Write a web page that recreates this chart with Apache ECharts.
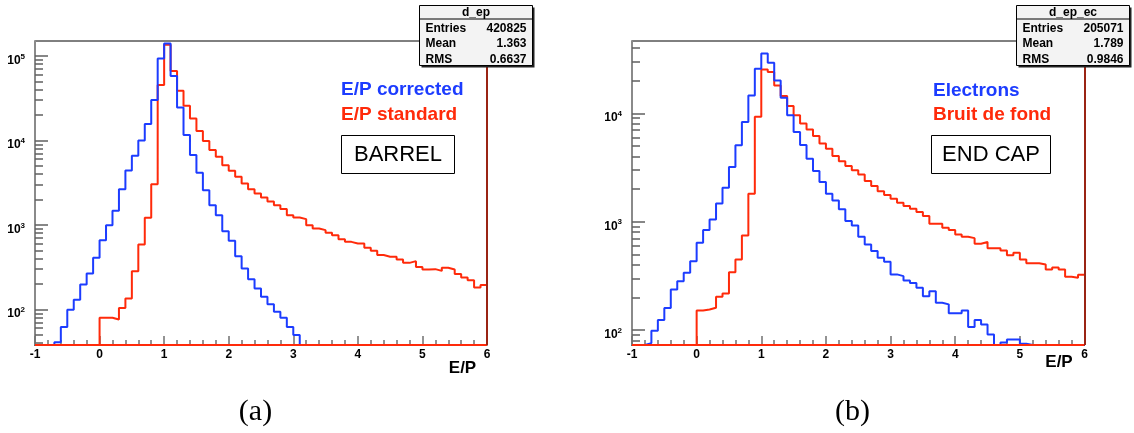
<!DOCTYPE html>
<html><head><meta charset="utf-8">
<script src="https://cdn.jsdelivr.net/npm/echarts@6/dist/echarts.min.js"></script>
<style>html,body{margin:0;padding:0;background:#fff}#c{width:1134px;height:433px}</style>
</head><body><div id="c"></div>
<script>
// ---- data ----
const BIN_LOW = -1, BIN_WIDTH = 0.1;              // 70 bins from -1 to 6
const xTickLabels = [-1, 0, 1, 2, 3, 4, 5, 6];

// (a) BARREL
const barrelCorrected = [0,0,0,41,62,99,130,198,267,408,
  660,995,1470,2650,4420,6580,10000,15600,30000,93300,
  140600,57700,24500,11560,6700,4140,2570,1710,1306,845,
  649,427,306,228,177,141,115,94,80,62,
  50,0,0,0,0,0,0,0,0,0,
  0,0,0,0,0,0,0,0,0,0,
  0,0,0,0,0,0,0,0,0,0];
const barrelStandard = [0,0,0,0,0,0,0,0,0,0,
  80,80,76,104,135,284,588,1213,3040,45200,
  135000,66100,38600,25700,18200,12900,9820,7680,6400,5100,
  4370,3710,3100,2650,2360,2115,1900,1710,1540,1306,
  1227,1172,995,910,868,807,757,679,631,604,
  604,536,494,440,420,420,391,356,373,319,
  297,300,286,311,297,262,239,222,182,195];
const barrelYRange = [38, 150000];
const barrelYMajor = [100, 1000, 10000, 100000];
const barrelYMinor = [40,50,60,70,80,90,200,300,400,500,600,700,800,900,
  2000,3000,4000,5000,6000,7000,8000,9000,20000,30000,40000,50000,60000,70000,80000,90000];
const barrelStatsName = 'd_ep';
const barrelStatsLabels = ['Entries', 'Mean', 'RMS'];
const barrelStatsValues = ['420825', '1.363', '0.6637'];
const barrelLegend = ['E/P corrected', 'E/P standard'];
const barrelTag = 'BARREL';

// (b) END CAP
const endcapElectrons = [0,0,76,99,124,160,237,283,339,433,
  640,837,1050,1475,2060,3190,5060,8300,14600,25800,
  35500,29300,20100,13900,9570,6720,5090,3810,2930,2320,
  1810,1570,1300,1013,925,728,618,536,465,428,
  327,315,287,273,246,206,229,179,173,143,
  143,152,107,124,113,91,0,77,82,82,
  75,0,0,0,0,0,0,0,0,0];
const endcapBackground = [0,0,0,0,0,0,0,0,0,0,
  152,155,161,203,218,343,449,748,1810,9310,
  25400,24000,18070,14400,11650,9570,8070,7100,6160,5270,
  4710,4030,3620,3260,2990,2730,2370,2130,1914,1760,
  1630,1497,1393,1318,1227,1127,957,957,881,837,
  764,728,706,627,649,568,568,543,492,517,
  449,415,415,404,363,379,363,311,304,324];
const endcapYRange = [73, 46400];
const endcapYMajor = [100, 1000, 10000];
const endcapYMinor = [80,90,200,300,400,500,600,700,800,900,
  2000,3000,4000,5000,6000,7000,8000,9000,20000,30000,40000];
const endcapStatsName = 'd_ep_ec';
const endcapStatsLabels = ['Entries', 'Mean', 'RMS'];
const endcapStatsValues = ['205071', '1.789', '0.9846'];
const endcapLegend = ['Electrons', 'Bruit de fond'];
const endcapTag = 'END CAP';

const xTitle = 'E/P';
const captions = ['(a)', '(b)'];

// ---- styling ----
const FONT = 'Liberation Sans, Arial, Helvetica, sans-serif';
const BLUE = '#1c3cff', RED = '#ff2a0a';

function stepData(vals, ymin) {
  const pts = vals.map((v, i) => [+(BIN_LOW + i * BIN_WIDTH).toFixed(2), Math.max(v, ymin)]);
  pts.push([+(BIN_LOW + vals.length * BIN_WIDTH).toFixed(2), Math.max(vals[vals.length - 1], ymin)]);
  return pts;
}

function xAxisCfg(gi) {
  return {
    type: 'value', gridIndex: gi, min: xTickLabels[0], max: xTickLabels[xTickLabels.length - 1], interval: 1,
    axisLine: { show: true, onZero: false, lineStyle: { color: '#000', width: 1 } },
    axisTick: { show: true, inside: true, length: 9, lineStyle: { color: '#707070', width: 1.5 } },
    minorTick: { show: true, splitNumber: 5, length: 5, lineStyle: { color: '#707070', width: 1.5 } },
    splitLine: { show: false },
    axisLabel: { margin: 4, fontFamily: FONT, fontWeight: 'bold', fontSize: 12, color: '#000' }
  };
}
function yAxisMajor(gi, range, major) {
  return {
    type: 'log', logBase: 10, gridIndex: gi, min: range[0], max: range[1], position: 'left',
    axisLine: { show: true, onZero: false, lineStyle: { color: '#8a8a8a', width: 2 } },
    axisTick: { show: true, inside: true, length: 13, customValues: major, lineStyle: { color: '#606060', width: 1.5 } },
    splitLine: { show: false },
    axisLabel: {
      customValues: major, margin: 10, padding: [7, 0, 0, 0],
      formatter: v => '{b|10}{s|' + Math.round(Math.log10(v)) + '}',
      rich: {
        b: { fontFamily: FONT, fontWeight: 'bold', fontSize: 12, color: '#000', padding: [2, 0, 0, 0] },
        s: { fontFamily: FONT, fontWeight: 'bold', fontSize: 8, color: '#000', verticalAlign: 'top' }
      }
    }
  };
}
function yAxisMinor(gi, range, minor) {
  return {
    type: 'log', logBase: 10, gridIndex: gi, min: range[0], max: range[1], position: 'left',
    axisLine: { show: false, onZero: false },
    axisTick: { show: true, inside: true, length: 8, customValues: minor, lineStyle: { color: '#606060', width: 1.5 } },
    axisLabel: { show: false },
    splitLine: { show: false }
  };
}
function histSeries(name, vals, color, xi, yi, ymin, z, extra) {
  return Object.assign({
    name, type: 'line', step: 'end', symbol: 'none', clip: false, z,
    xAxisIndex: xi, yAxisIndex: yi,
    lineStyle: { color, width: 2 }, data: stepData(vals, ymin), animation: false
  }, extra || {});
}
function frameMarks(ymin) {
  return {
    markLine: {
      silent: true, symbol: 'none', label: { show: false }, animation: false,
      data: [
        { yAxis: ymin, lineStyle: { color: RED, width: 2, type: 'solid' } },
        { xAxis: xTickLabels[xTickLabels.length - 1], lineStyle: { color: '#9a2414', width: 2, type: 'solid' } }
      ]
    }
  };
}

function statsBox(x, y, w, h, name, labels, values) {
  const els = [
    { type: 'rect', shape: { x: x + 2, y: y + 2, width: w, height: h }, style: { fill: '#222' }, z: 10 },
    { type: 'rect', shape: { x: x, y: y, width: w, height: h }, style: { fill: '#f3f3f3', stroke: '#000', lineWidth: 1 }, z: 11 },
    { type: 'line', shape: { x1: x, y1: y + 13.5, x2: x + w, y2: y + 13.5 }, style: { stroke: '#000', lineWidth: 1 }, z: 12 },
    { type: 'text', x: x + w / 2, y: y + 7.5, style: { text: name, font: 'bold 12px ' + FONT, fill: '#000', align: 'center', verticalAlign: 'middle' }, z: 12 }
  ];
  labels.forEach((l, i) => {
    els.push({ type: 'text', x: x + 6, y: y + 23 + i * 15.5, style: { text: l, font: 'bold 12px ' + FONT, fill: '#000', align: 'left', verticalAlign: 'middle' }, z: 12 });
    els.push({ type: 'text', x: x + w - 6, y: y + 23 + i * 15.5, style: { text: values[i], font: 'bold 12px ' + FONT, fill: '#000', align: 'right', verticalAlign: 'middle' }, z: 12 });
  });
  return els;
}
function txt(x, y, text, font, fill, align) {
  return { type: 'text', x, y, style: { text, font, fill, align: align || 'left', verticalAlign: 'middle' }, z: 12 };
}
function tagBox(x, y, w, h, text) {
  return [
    { type: 'rect', shape: { x, y, width: w, height: h }, style: { fill: '#fff', stroke: '#000', lineWidth: 1 }, z: 11 },
    txt(x + w / 2, y + h / 2 + 0.5, text, '22px ' + FONT, '#000', 'center')
  ];
}

const graphics = [].concat(
  statsBox(419.5, 5.5, 113, 60, barrelStatsName, barrelStatsLabels, barrelStatsValues),
  statsBox(1016.5, 5.5, 113, 60, endcapStatsName, endcapStatsLabels, endcapStatsValues),
  [
    txt(341, 90, barrelLegend[0], 'bold 19px ' + FONT, BLUE),
    txt(341, 115, barrelLegend[1], 'bold 19px ' + FONT, RED),
    txt(933, 91, endcapLegend[0], 'bold 19px ' + FONT, BLUE),
    txt(933, 115, endcapLegend[1], 'bold 19px ' + FONT, RED),
    txt(462.5, 368, xTitle, 'bold 17px ' + FONT, '#000', 'center'),
    txt(1059, 362.5, xTitle, 'bold 17px ' + FONT, '#000', 'center'),
    txt(255.5, 412, captions[0], '30px Liberation Serif, Times New Roman, serif', '#000', 'center'),
    txt(852.5, 412, captions[1], '30px Liberation Serif, Times New Roman, serif', '#000', 'center')
  ],
  tagBox(341.5, 135.5, 113, 38, barrelTag),
  tagBox(931.5, 135.5, 119, 38, endcapTag)
);

const chart = echarts.init(document.getElementById('c'), null, { renderer: 'canvas' });
chart.setOption({
  animation: false,
  backgroundColor: '#fff',
  grid: [
    { left: 35, top: 41, width: 452, height: 304, show: true, borderColor: '#000', borderWidth: 1, backgroundColor: 'transparent' },
    { left: 632, top: 41, width: 452.5, height: 304, show: true, borderColor: '#000', borderWidth: 1, backgroundColor: 'transparent' }
  ],
  xAxis: [xAxisCfg(0), xAxisCfg(1)],
  yAxis: [
    yAxisMajor(0, barrelYRange, barrelYMajor), yAxisMinor(0, barrelYRange, barrelYMinor),
    yAxisMajor(1, endcapYRange, endcapYMajor), yAxisMinor(1, endcapYRange, endcapYMinor)
  ],
  series: [
    histSeries('E/P standard', barrelStandard, RED, 0, 0, barrelYRange[0], 2, frameMarks(barrelYRange[0])),
    histSeries('E/P corrected', barrelCorrected, BLUE, 0, 0, barrelYRange[0], 3),
    histSeries('Bruit de fond', endcapBackground, RED, 1, 2, endcapYRange[0], 2, frameMarks(endcapYRange[0])),
    histSeries('Electrons', endcapElectrons, BLUE, 1, 2, endcapYRange[0], 3)
  ],
  graphic: graphics
});
</script>
</body></html>
